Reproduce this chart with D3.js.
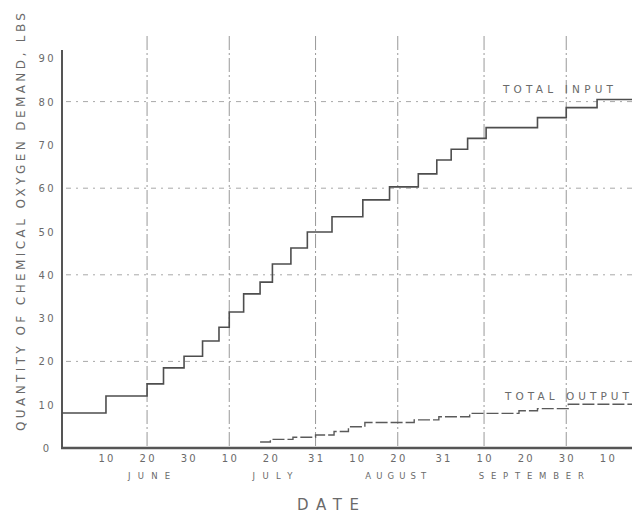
<!DOCTYPE html>
<html>
<head>
<meta charset="utf-8">
<script src="https://cdn.jsdelivr.net/npm/d3@7"></script>
<style>
  html, body { margin: 0; padding: 0; background: #fff; }
  svg { display: block; }
  text { font-family: "DejaVu Sans", sans-serif; fill: #6a6a6a; }
</style>
</head>
<body>
<script>
// ---- data (day number counted from June 1 = day 1) ----
const inputDays   = [-0.7, 10, 20, 24, 29, 33.5, 37.5, 40, 43.5, 47.5, 50.5, 55, 59, 65, 72.5, 79, 86, 90.5, 94, 98, 102.5, 115, 122, 129.5];
const inputValues = [8.1, 12.0, 14.8, 18.5, 21.2, 24.7, 27.9, 31.4, 35.6, 38.3, 42.5, 46.2, 49.9, 53.4, 57.3, 60.3, 63.3, 66.5, 69.0, 71.5, 74.0, 76.3, 78.6, 80.5];
const outputDays   = [47.5, 50, 55.5, 61, 65.5, 69, 73, 85, 91, 98.5, 110.5, 115, 122.5];
const outputValues = [1.4, 2.0, 2.5, 3.0, 3.8, 4.9, 5.9, 6.5, 7.2, 8.0, 8.6, 9.1, 10.1];
const endDay = 138;

const xTickDays   = [10, 20, 30, 40, 50, 61, 71, 81, 92, 102, 112, 122, 132];
const xTickLabels = ["10", "20", "30", "10", "20", "31", "10", "20", "31", "10", "20", "30", "10"];
const monthNames  = ["JUNE", "JULY", "AUGUST", "SEPTEMBER"];
const monthCenterDays = [20.5, 50.5, 80.5, 113.5];
const gridDays    = [20, 40, 61, 81, 102, 122];
const yTicks      = [0, 10, 20, 30, 40, 50, 60, 70, 80, 90];
const yGridValues = [20, 40, 60, 80];

const W = 632, H = 517;
const svg = d3.select("body").append("svg").attr("width", W).attr("height", H);
svg.append("rect").attr("width", W).attr("height", H).attr("fill", "#fff");

const x = d3.scaleLinear().domain([-0.7, endDay]).range([62, 632]);
const y = d3.scaleLinear().domain([0, 90]).range([448, 58.3]);

// horizontal dotted gridlines
svg.append("g").selectAll("line").data(yGridValues).join("line")
  .attr("x1", 66).attr("x2", W)
  .attr("y1", d => y(d)).attr("y2", d => y(d))
  .attr("stroke", "#a8a8a8").attr("stroke-width", 1)
  .attr("stroke-dasharray", "5,5,2,5");

// vertical gridlines
svg.append("g").selectAll("line").data(gridDays).join("line")
  .attr("x1", d => x(d)).attr("x2", d => x(d))
  .attr("y1", 36).attr("y2", 448)
  .attr("stroke", "#999").attr("stroke-width", 1)
  .attr("stroke-dasharray", "14,3,2,3");

// axes lines
svg.append("line").attr("x1", 62).attr("x2", 62).attr("y1", 50).attr("y2", 449)
  .attr("stroke", "#555").attr("stroke-width", 2);
svg.append("line").attr("x1", 61).attr("x2", W).attr("y1", 448).attr("y2", 448)
  .attr("stroke", "#555").attr("stroke-width", 2.5);

// y tick labels
svg.append("g").selectAll("text").data(yTicks).join("text")
  .attr("x", 46).attr("y", d => y(d) + 4)
  .attr("text-anchor", "middle")
  .attr("font-size", 10)
  .attr("textLength", d => d === 0 ? null : 15)
  .attr("lengthAdjust", "spacing")
  .text(d => String(d));

// x tick labels
svg.append("g").selectAll("text").data(xTickDays).join("text")
  .attr("x", d => x(d)).attr("y", 462)
  .attr("text-anchor", "middle")
  .attr("font-size", 10)
  .attr("textLength", 15)
  .attr("lengthAdjust", "spacing")
  .text((d, i) => xTickLabels[i]);

// month labels
const monthWidths = [42, 40, 61, 105];
svg.append("g").selectAll("text").data(monthNames).join("text")
  .attr("x", (d, i) => x(monthCenterDays[i])).attr("y", 479)
  .attr("text-anchor", "middle")
  .attr("font-size", 8.5)
  .attr("textLength", (d, i) => monthWidths[i])
  .attr("lengthAdjust", "spacing")
  .text(d => d);

// axis titles
svg.append("text").attr("x", 328).attr("y", 510)
  .attr("text-anchor", "middle").attr("font-size", 15)
  .attr("textLength", 62).attr("lengthAdjust", "spacing")
  .text("DATE");

svg.append("text")
  .attr("transform", "translate(25,222) rotate(-90)")
  .attr("text-anchor", "middle").attr("font-size", 12)
  .attr("textLength", 418).attr("lengthAdjust", "spacing")
  .text("QUANTITY OF CHEMICAL OXYGEN DEMAND, LBS");

// step lines
const line = d3.line().x(d => x(d[0])).y(d => y(d[1])).curve(d3.curveStepAfter);
const inputPts = inputDays.map((d, i) => [d, inputValues[i]]);
inputPts.push([endDay, inputValues[inputValues.length - 1]]);
const outputPts = outputDays.map((d, i) => [d, outputValues[i]]);
outputPts.push([endDay, outputValues[outputValues.length - 1]]);

svg.append("path").datum(inputPts).attr("d", line)
  .attr("fill", "none").attr("stroke", "#4e4e4e").attr("stroke-width", 1.6);
svg.append("path").datum(outputPts).attr("d", line)
  .attr("fill", "none").attr("stroke", "#5a5a5a").attr("stroke-width", 1.4)
  .attr("stroke-dasharray", "12,3");

// series labels
svg.append("text").attr("x", 503).attr("y", 93)
  .attr("font-size", 10.5).attr("textLength", 110).attr("lengthAdjust", "spacing")
  .text("TOTAL  INPUT");
svg.append("text").attr("x", 505).attr("y", 400)
  .attr("font-size", 10.5).attr("textLength", 124).attr("lengthAdjust", "spacing")
  .text("TOTAL  OUTPUT");
</script>
</body>
</html>
